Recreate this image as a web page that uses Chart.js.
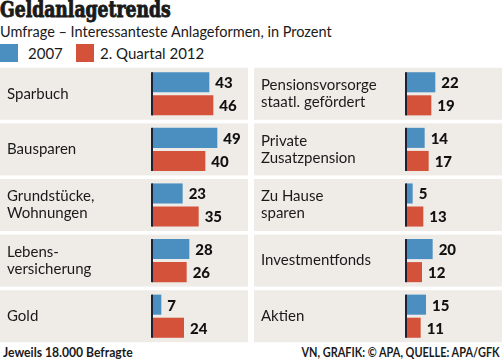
<!DOCTYPE html>
<html>
<head>
<meta charset="utf-8">
<script src="https://cdn.jsdelivr.net/npm/chart.js@4/dist/chart.umd.min.js"></script>
<style>
  html, body { margin:0; padding:0; background:#fff; }
  body { width:502px; height:362px; position:relative; overflow:hidden; font-family: Lato, "Noto Sans", sans-serif; color:#1a1a1a; }
  .abs { position:absolute; white-space:nowrap; }
  #title { left:0; top:-4px; font-family:"DejaVu Serif Condensed","DejaVu Serif",serif; font-weight:bold; font-size:22.5px; color:#1a1a1a; -webkit-text-stroke:0.9px #1a1a1a; transform:scaleX(0.85); transform-origin:left top; }
  #sub { left:0; top:23px; font-size:14.5px; }
  .sw { position:absolute; width:18px; height:18px; top:44px; }
  .lg { top:44px; font-size:15px; }
  .foot { top:344px; font-size:13.5px; font-weight:bold; }
  canvas { position:absolute; }
</style>
</head>
<body>
<div id="title" class="abs">Geldanlagetrends</div>
<div id="sub" class="abs">Umfrage – Interessanteste Anlageformen, in Prozent</div>
<div class="sw" style="left:0;background:#4b8ec0"></div>
<div class="abs lg" id="lg1" style="left:28px">2007</div>
<div class="sw" style="left:76px;background:#d4513a"></div>
<div class="abs lg" id="lg2" style="left:100px">2. Quartal 2012</div>
<div class="abs foot" style="left:3px;transform:scaleX(0.9);transform-origin:left top">Jeweils 18.000 Befragte</div>
<div class="abs foot" style="right:2px;transform:scaleX(0.81);transform-origin:right top">VN, GRAFIK: © APA, QUELLE: APA/GFK</div>
<div style="position:absolute;left:0;top:64px;width:248px;height:282px"><canvas id="c1"></canvas></div>
<div style="position:absolute;left:254px;top:64px;width:248px;height:282px"><canvas id="c2"></canvas></div>
<script>
const seriesNames = ['2007', '2. Quartal 2012'];
const categoriesLeft = [['Sparbuch'], ['Bausparen'], ['Grundstücke,', 'Wohnungen'], ['Lebens-', 'versicherung'], ['Gold']];
const values2007Left = [43, 49, 23, 28, 7];
const values2012Left = [46, 40, 35, 26, 24];
const categoriesRight = [['Pensionsvorsorge', 'staatl. gefördert'], ['Private', 'Zusatzpension'], ['Zu Hause', 'sparen'], ['Investmentfonds'], ['Aktien']];
const values2007Right = [22, 14, 5, 20, 15];
const values2012Right = [19, 17, 13, 12, 11];

const BLUE = '#4b8ec0', RED = '#d4513a', ROWBG = '#efece8', AXIS = '#1c2233';

const decor = {
  id: 'decor',
  beforeDraw(chart) {
    const ctx = chart.ctx, y = chart.scales.y;
    ctx.save();
    ctx.fillStyle = ROWBG;
    const n = chart.data.labels.length;
    for (let i = 0; i < n; i++) {
      const c = y.getPixelForValue(i);
      ctx.fillRect(0, c - 26, chart.width, 52);
    }
    ctx.restore();
  },
  afterDatasetsDraw(chart) {
    const ctx = chart.ctx;
    const m0 = chart.getDatasetMeta(0), m1 = chart.getDatasetMeta(1);
    ctx.save();
    ctx.fillStyle = AXIS;
    m0.data.forEach((b0, i) => {
      const b1 = m1.data[i];
      const top = b0.y - b0.height / 2, bot = b1.y + b1.height / 2;
      ctx.fillRect(chart.chartArea.left - 1, top, 2, bot - top);
    });
    ctx.font = '900 15px Lato, "Noto Sans", sans-serif';
    ctx.fillStyle = '#111';
    ctx.textAlign = 'left';
    ctx.textBaseline = 'middle';
    [m0, m1].forEach((m, di) => {
      m.data.forEach((b, i) => {
        const v = chart.data.datasets[di].data[i];
        ctx.fillText(String(v), b.x + 6, b.y + 1);
      });
    });
    ctx.restore();
  }
};

function makeChart(id, labels, a, b) {
  return new Chart(document.getElementById(id), {
    type: 'bar',
    data: {
      labels: labels,
      datasets: [
        { label: seriesNames[0], data: a, backgroundColor: BLUE },
        { label: seriesNames[1], data: b, backgroundColor: RED }
      ]
    },
    options: {
      indexAxis: 'y',
      responsive: true,
      maintainAspectRatio: false,
      animation: false,
      events: [],
      layout: { padding: { left: 7, right: 0, top: 2, bottom: 2 } },
      datasets: { bar: { categoryPercentage: 0.83, barPercentage: 0.87 } },
      plugins: { legend: { display: false }, tooltip: { enabled: false }, title: { display: false } },
      scales: {
        x: { display: false, min: 0, max: 72 },
        y: {
          grid: { display: false },
          border: { display: false },
          ticks: {
            crossAlign: 'far',
            color: '#1a1a1a',
            font: { family: 'Lato, "Noto Sans", sans-serif', size: 15, lineHeight: 1.15 },
            padding: 0
          },
          afterFit(s) { s.width = 145; s.paddingTop = 0; s.paddingBottom = 0; }
        }
      }
    },
    plugins: [decor]
  });
}
makeChart('c1', categoriesLeft, values2007Left, values2012Left);
makeChart('c2', categoriesRight, values2007Right, values2012Right);
</script>
</body>
</html>
